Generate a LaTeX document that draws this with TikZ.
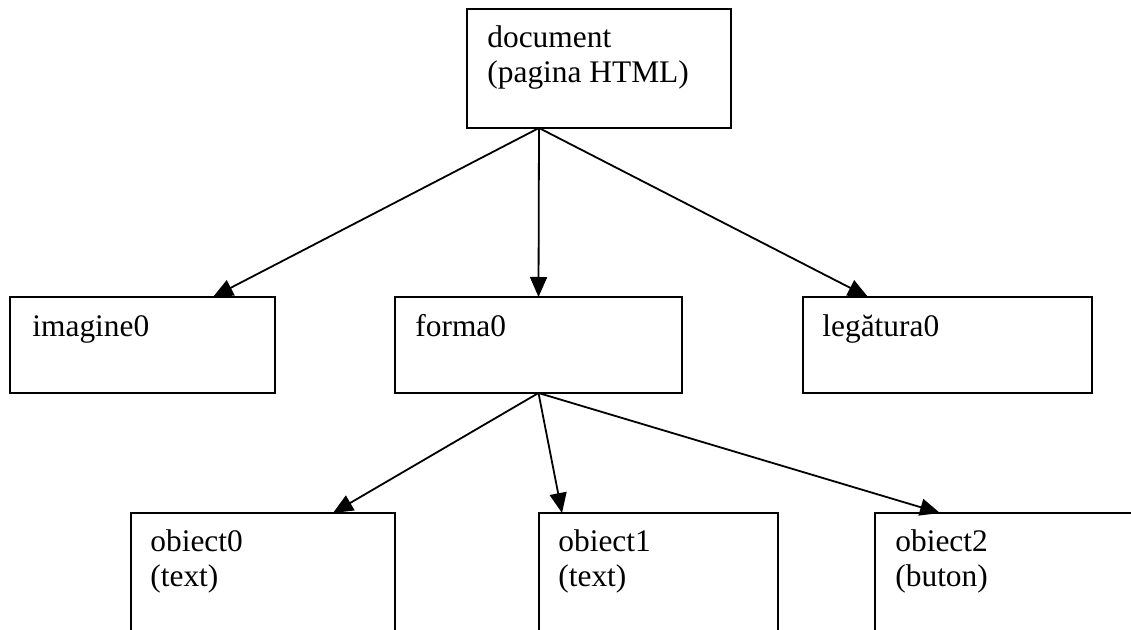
\documentclass[tikz,border=0pt]{standalone}
\usepackage{fontspec}
\setmainfont{Liberation Serif}
\usetikzlibrary{arrows.meta}
\begin{document}
\begin{tikzpicture}[x=0.5pt,y=-0.5pt,
  box/.style={draw,line width=1.1pt,inner sep=0pt,outer sep=0pt,anchor=north west},
  txt/.style={inner sep=0pt,anchor=base west,font=\fontsize{15.7pt}{17.5pt}\selectfont},
  conn/.style={line width=0.9pt,-{Triangle[length=10pt,width=8.5pt]}}]
\clip (0,0) rectangle (1131,630);
\fill[white] (0,0) rectangle (1131,630);
% boxes
\node[box,minimum width=132pt,minimum height=59.5pt] (doc) at (467,9) {};
\node[box,minimum width=132.5pt,minimum height=48pt] (img) at (10,297) {};
\node[box,minimum width=143.5pt,minimum height=48pt] (frm) at (395,297) {};
\node[box,minimum width=144.5pt,minimum height=48pt] (leg) at (803,297) {};
\node[box,minimum width=132pt,minimum height=75pt] (ob0) at (131,513) {};
\node[box,minimum width=119.5pt,minimum height=75pt] (ob1) at (539,513) {};
\node[box,minimum width=150pt,minimum height=75pt] (ob2) at (875,513) {};
\coordinate (ds) at ([shift={(72,0)}]doc.south west);
% texts
\node[txt] (t1) at ([shift={(20,39)}]doc.north west) {document};
\node[txt] (t2) at ([shift={(20,74)}]doc.north west) {(pagina HTML)};
\node[txt] (t3) at ([shift={(22,40)}]img.north west) {imagine0};
\node[txt] (t4) at ([shift={(20,40)}]frm.north west) {forma0};
\node[txt] (t5) at ([shift={(19,40)}]leg.north west) {legătura0};
\node[txt] (t6) at ([shift={(19,39)}]ob0.north west) {obiect0};
\node[txt] (t7) at ([shift={(19,74)}]ob0.north west) {(text)};
\node[txt] (t8) at ([shift={(19,39)}]ob1.north west) {obiect1};
\node[txt] (t9) at ([shift={(19,74)}]ob1.north west) {(text)};
\node[txt] (t10) at ([shift={(20,39)}]ob2.north west) {obiect2};
\node[txt] (t11) at ([shift={(20,74)}]ob2.north west) {(buton)};
% connectors
\draw[conn] (ds) -- ([shift={(203,0)}]img.north west);
\draw[conn] (ds) -- (frm.north);
\draw[conn] (ds) -- ([shift={(65,0)}]leg.north west);
\draw[conn] (frm.south) -- ([shift={(202,0)}]ob0.north west);
\draw[conn] (frm.south) -- ([shift={(23,0)}]ob1.north west);
\draw[conn] (frm.south) -- ([shift={(65,0)}]ob2.north west);
\end{tikzpicture}
\end{document}
